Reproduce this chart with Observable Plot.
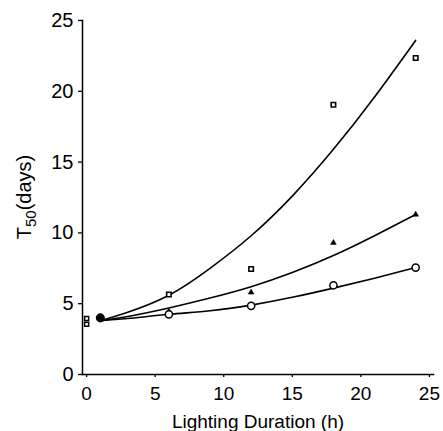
<!DOCTYPE html>
<html>
<head>
<meta charset="utf-8">
<script src="https://cdn.jsdelivr.net/npm/d3@7"></script>
<script src="https://cdn.jsdelivr.net/npm/@observablehq/plot@0.6"></script>
<style>
  html, body { margin: 0; padding: 0; background: #fff; }
  #chart svg { display: block; }
</style>
</head>
<body>
<div id="chart"></div>
<script>
// Tick labels
const xTicks = [0, 5, 10, 15, 20, 25];
const yTicks = [0, 5, 10, 15, 20, 25];

// Measured points (lighting duration h, T50 days)
const squareX = [6, 12, 18, 24];
const squareY = [5.65, 7.45, 19.05, 22.35];
const triangleX = [6, 12, 18, 24];
const triangleY = [4.45, 5.8, 9.3, 11.3];
const circleX = [6, 12, 18, 24];
const circleY = [4.25, 4.85, 6.3, 7.55];
const controlX = [0, 0];
const controlY = [3.95, 3.55];
const startX = [1];
const startY = [4.0];

// Fitted curves
const upperCurveX = [1, 3, 6, 9, 12, 15, 18, 21, 24];
const upperCurveY = [3.8, 4.4, 5.6, 7.5, 9.8, 12.6, 15.9, 19.6, 23.6];
const middleCurveX = [1, 3, 6, 9, 12, 15, 18, 21, 24];
const middleCurveY = [3.8, 4.1, 4.7, 5.4, 6.2, 7.2, 8.4, 9.8, 11.3];
const lowerCurveX = [1, 3, 6, 9, 12, 15, 18, 21, 24];
const lowerCurveY = [3.8, 3.95, 4.25, 4.5, 4.9, 5.45, 6.1, 6.8, 7.55];

const pts = (xs, ys) => xs.map((x, i) => ({x, y: ys[i]}));

const font = "'Liberation Sans', Arial, Helvetica, sans-serif";

const plot = Plot.plot({
  width: 443,
  height: 431,
  marginLeft: 82,
  marginRight: 10,
  marginTop: 20,
  marginBottom: 57,
  style: {fontFamily: font, color: "#000", background: "#fff"},
  x: {domain: [-0.3, 25.3]},
  y: {domain: [0, 25]},
  marks: [
    Plot.axisY({ticks: yTicks, tickSize: 4, tickPadding: 5, label: null, fontSize: 20, strokeWidth: 1.3}),
    Plot.axisX({ticks: xTicks, tickSize: 3, tickPadding: 9, fontSize: 19, strokeWidth: 1.3,
      label: "Lighting Duration (h)", labelAnchor: "center", labelOffset: 53, labelArrow: "none"}),
    Plot.frame({anchor: "left", strokeWidth: 1.5}),
    Plot.frame({anchor: "bottom", strokeWidth: 1.5}),
    Plot.line(pts(upperCurveX, upperCurveY), {x: "x", y: "y", curve: "natural", stroke: "#000", strokeWidth: 1.6}),
    Plot.line(pts(middleCurveX, middleCurveY), {x: "x", y: "y", curve: "natural", stroke: "#000", strokeWidth: 1.6}),
    Plot.line(pts(lowerCurveX, lowerCurveY), {x: "x", y: "y", curve: "natural", stroke: "#000", strokeWidth: 1.6}),
    Plot.dot(pts(squareX, squareY), {x: "x", y: "y", symbol: "square", r: 2.5, fill: "#fff", stroke: "#000", strokeWidth: 1.6}),
    Plot.dot(pts(controlX, controlY), {x: "x", y: "y", symbol: "square", r: 2.3, fill: "#fff", stroke: "#000", strokeWidth: 1.5}),
    Plot.dot(pts(triangleX, triangleY), {x: "x", y: "y", symbol: "triangle", r: 2.1, fill: "#000", stroke: "#000", strokeWidth: 0.6}),
    Plot.dot(pts(circleX, circleY), {x: "x", y: "y", symbol: "circle", r: 3.6, fill: "#fff", stroke: "#000", strokeWidth: 1.5}),
    Plot.dot(pts(startX, startY), {x: "x", y: "y", symbol: "circle", r: 3.8, fill: "#000", stroke: "#000"})
  ]
});

document.getElementById("chart").appendChild(plot);

// Y axis title with subscript
const svg = d3.select(plot);
const t = svg.append("text")
  .attr("transform", "translate(31,197) rotate(-90)")
  .attr("text-anchor", "middle")
  .attr("font-family", font)
  .attr("font-size", 20)
  .attr("fill", "#000");
t.append("tspan").text("T");
t.append("tspan").attr("font-size", 15).attr("dy", 5).text("50");
t.append("tspan").attr("dy", -5).text("(days)");
</script>
</body>
</html>
